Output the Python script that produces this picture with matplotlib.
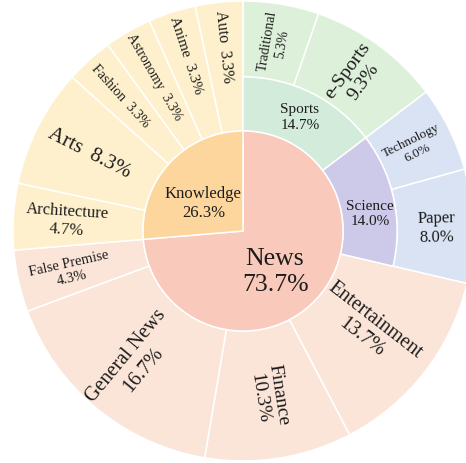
import numpy as np
import matplotlib.pyplot as plt

plt.rcParams['font.family'] = ['Liberation Serif', 'DejaVu Serif']

# data (counts out of 300), clockwise from 12 o'clock
root_labels = ["News", "Knowledge"]
root_counts = [221, 79]

mid_labels = ["Sports", "Science"]
mid_counts = [44, 42]

leaf_labels = ["Traditional", "e-Sports", "Technology", "Paper", "Entertainment",
               "Finance", "General News", "False Premise", "Architecture", "Arts",
               "Fashion", "Astronomy", "Anime", "Auto"]
leaf_counts = [16, 28, 18, 24, 41, 31, 50, 13, 14, 25, 10, 10, 10, 10]
leaf_parent = ["Sports", "Sports", "Science", "Science", "News", "News", "News",
               "News", "Knowledge", "Knowledge", "Knowledge", "Knowledge",
               "Knowledge", "Knowledge"]

total = sum(root_counts)

# colours
root_colors = {"News": "#f9c9bb", "Knowledge": "#fdd69e"}
mid_colors = {"Sports": "#d3ebda", "Science": "#cdc9e8"}
leaf_colors = {"Sports": "#ddf0da", "Science": "#dae3f4",
               "News": "#fbe5d8", "Knowledge": "#fef0cc"}

R_IN = 0.435
R_MID = 0.67
R_OUT = 1.0
TXT = "#1c1c1c"

fig = plt.figure(figsize=(4.66, 4.64), dpi=100)
ax = fig.add_axes([0, 0, 1, 1])

edge = dict(edgecolor="white", linewidth=1.1)

# outer ring (leaves)
wl, _ = ax.pie(leaf_counts, radius=R_OUT, startangle=90, counterclock=False,
               colors=[leaf_colors[p] for p in leaf_parent],
               wedgeprops=dict(width=R_OUT - R_IN, **edge))
for w, p in zip(wl, leaf_parent):
    if p in mid_labels:
        w.set_width(R_OUT - R_MID)

# middle ring (only Sports / Science)
rest = total - sum(mid_counts)
wm, _ = ax.pie(mid_counts + [rest], radius=R_MID, startangle=90, counterclock=False,
               colors=[mid_colors[m] for m in mid_labels] + ["none"],
               wedgeprops=dict(width=R_MID - R_IN, **edge))
wm[-1].set_edgecolor("none")

# inner ring
ax.pie(root_counts, radius=R_IN, startangle=90, counterclock=False,
       colors=[root_colors[r] for r in root_labels],
       wedgeprops=dict(**edge))

ax.set_xlim(-243 / 230, (466 - 243) / 230)
ax.set_ylim(-232 / 230, 232 / 230)
ax.axis("off")


def centers(counts):
    c = np.cumsum([0] + list(counts))
    return [90 - (c[i] + counts[i] / 2) / total * 360 for i in range(len(counts))]


def radial_rot(a):
    a = a % 360
    if 90 < a < 270:
        return a - 180
    return a if a <= 90 else a - 360


def pct(v):
    return f"{v / total * 100:.1f}%"


# label styles: (radius, fontsize, one line?)
leaf_style = {
    "Traditional": (0.835, 10, False),
    "e-Sports": (0.835, 14, False),
    "Technology": (0.83, 9.5, False),
    "Paper": (0.84, 12, False),
    "Entertainment": (0.69, 14.5, False),
    "Finance": (0.725, 14, False),
    "General News": (0.74, 14.5, False),
    "False Premise": (0.77, 10.5, False),
    "Architecture": (0.765, 12, False),
    "Arts": (0.75, 15, True),
    "Fashion": (0.795, 10, True),
    "Astronomy": (0.775, 10, True),
    "Anime": (0.805, 11, True),
    "Auto": (0.81, 11.5, True),
}

for lab, v, a in zip(leaf_labels, leaf_counts, centers(leaf_counts)):
    r, fs, one = leaf_style[lab]
    t = np.deg2rad(a)
    s = f"{lab}  {pct(v)}" if one else f"{lab}\n{pct(v)}"
    ax.text(r * np.cos(t), r * np.sin(t), s, fontsize=fs, color=TXT,
            rotation=radial_rot(a), rotation_mode="anchor",
            ha="center", va="center", multialignment="center", linespacing=1.2)

for lab, v, a in zip(mid_labels, mid_counts, centers(mid_counts)):
    t = np.deg2rad(a - (4 if lab == "Science" else 0))
    r = 0.557
    ax.text(r * np.cos(t), r * np.sin(t), f"{lab}\n{pct(v)}", fontsize=11,
            color=TXT, ha="center", va="center", multialignment="center",
            linespacing=1.25)

# inner labels: (radius, angle offset, fontsize)
root_style = {"News": (0.222, -8.5, 18.5), "Knowledge": (0.213, 6.5, 12)}
for lab, v, a in zip(root_labels, root_counts, centers(root_counts)):
    r, da, fs = root_style[lab]
    t = np.deg2rad(a + da)
    ax.text(r * np.cos(t), r * np.sin(t), f"{lab}\n{pct(v)}", fontsize=fs,
            color=TXT, ha="center", va="center", multialignment="center",
            linespacing=1.25)

plt.savefig("out.png", dpi=100)
